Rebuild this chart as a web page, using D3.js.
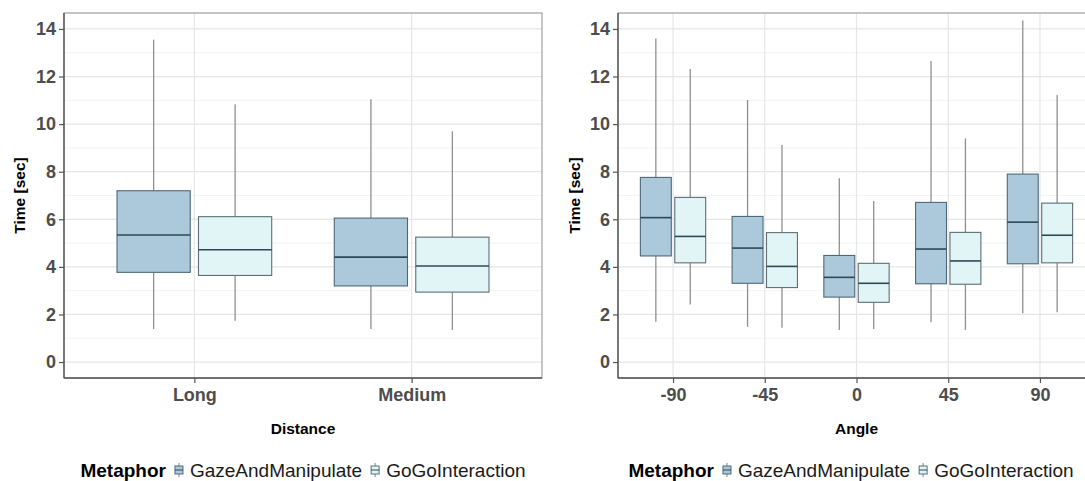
<!DOCTYPE html>
<html>
<head>
<meta charset="utf-8">
<script src="https://cdn.jsdelivr.net/npm/d3@7"></script>
<style>
  html, body { margin: 0; padding: 0; background: #fff; }
  svg { display: block; font-family: "Liberation Sans", Arial, sans-serif; }
</style>
</head>
<body>
<svg id="chart" width="1085" height="481"></svg>
<script>
// Task completion time per metaphor, summarised as [min, q1, median, q3, max]
const metaphors = ["GazeAndManipulate", "GoGoInteraction"];
const distanceCategories = ["Long", "Medium"];
const distanceGaze = [[1.39, 3.77, 5.34, 7.20, 13.55], [1.39, 3.20, 4.41, 6.05, 11.05]];
const distanceGoGo = [[1.74, 3.64, 4.72, 6.11, 10.84], [1.35, 2.94, 4.04, 5.25, 9.70]];
const angleCategories = ["-90", "-45", "0", "45", "90"];
const angleGaze = [[1.69, 4.46, 6.07, 7.76, 13.60], [1.48, 3.31, 4.79, 6.12, 11.01], [1.35, 2.73, 3.56, 4.48, 7.72], [1.67, 3.29, 4.75, 6.71, 12.65], [2.05, 4.13, 5.88, 7.90, 14.35]];
const angleGoGo = [[2.42, 4.17, 5.28, 6.92, 12.32], [1.44, 3.13, 4.02, 5.44, 9.12], [1.39, 2.51, 3.31, 4.15, 6.77], [1.35, 3.27, 4.25, 5.45, 9.40], [2.09, 4.17, 5.33, 6.68, 11.22]];
const yTicks = [0, 2, 4, 6, 8, 10, 12, 14];
const yMinorTicks = [1, 3, 5, 7, 9, 11, 13];

const fills = { GazeAndManipulate: "#abc9db", GoGoInteraction: "#e2f5f6" };
const strokes = { GazeAndManipulate: "#4f6878", GoGoInteraction: "#5e6e74" };
const medianColor = "#2c4858";
const whiskerColor = "#8f8f8f";

const svg = d3.select("#chart");

function panel(opts) {
  const { left, right, top, bottom, categories, series, xTitle, legendCenter, yTitleX } = opts;
  const g = svg.append("g");

  const x = d3.scalePoint().domain(categories).range([left, right]).padding(0.6);
  const y = d3.scaleLinear().domain([-0.67, 14.67]).range([bottom, top]);
  const step = x.step();

  // clip everything in the plotting area
  const clipId = "clip-" + xTitle;
  svg.append("defs").append("clipPath").attr("id", clipId)
    .append("rect").attr("x", left).attr("y", top).attr("width", right - left).attr("height", bottom - top);
  const area = g.append("g").attr("clip-path", `url(#${clipId})`);

  // grid
  area.selectAll(".minor").data(yMinorTicks).join("line")
    .attr("x1", left).attr("x2", right)
    .attr("y1", d => y(d)).attr("y2", d => y(d))
    .attr("stroke", "#f3f3f3").attr("stroke-width", 1);
  area.selectAll(".major").data(yTicks).join("line")
    .attr("x1", left).attr("x2", right)
    .attr("y1", d => y(d)).attr("y2", d => y(d))
    .attr("stroke", "#e6e6e6").attr("stroke-width", 1.2);
  area.selectAll(".vmajor").data(categories).join("line")
    .attr("x1", d => x(d)).attr("x2", d => x(d))
    .attr("y1", top).attr("y2", bottom)
    .attr("stroke", "#e6e6e6").attr("stroke-width", 1.2);

  // boxes
  const boxW = 0.337 * step;
  const offsets = [-0.1875 * step, 0.1875 * step];
  series.forEach((vals, si) => {
    const name = metaphors[si];
    const data = categories.map((c, i) => ({ c, s: vals[i] }));
    const bg = area.append("g");
    const cx = d => x(d.c) + offsets[si];
    bg.selectAll(".wu").data(data).join("line")
      .attr("x1", cx).attr("x2", cx)
      .attr("y1", d => y(d.s[3])).attr("y2", d => y(d.s[4]))
      .attr("stroke", whiskerColor).attr("stroke-width", 1.3);
    bg.selectAll(".wl").data(data).join("line")
      .attr("x1", cx).attr("x2", cx)
      .attr("y1", d => y(d.s[0])).attr("y2", d => y(d.s[1]))
      .attr("stroke", whiskerColor).attr("stroke-width", 1.3);
    bg.selectAll(".box").data(data).join("rect")
      .attr("x", d => cx(d) - boxW / 2).attr("width", boxW)
      .attr("y", d => y(d.s[3])).attr("height", d => y(d.s[1]) - y(d.s[3]))
      .attr("fill", fills[name]).attr("stroke", strokes[name]).attr("stroke-width", 1.1);
    bg.selectAll(".med").data(data).join("line")
      .attr("x1", d => cx(d) - boxW / 2).attr("x2", d => cx(d) + boxW / 2)
      .attr("y1", d => y(d.s[2])).attr("y2", d => y(d.s[2]))
      .attr("stroke", medianColor).attr("stroke-width", 1.6);
  });

  // panel border
  g.append("rect").attr("x", left).attr("y", top).attr("width", right - left).attr("height", bottom - top)
    .attr("fill", "none").attr("stroke", "#a0a0a0").attr("stroke-width", 1.2);
  // axis lines
  g.append("line").attr("x1", left).attr("x2", left).attr("y1", top).attr("y2", bottom)
    .attr("stroke", "#555").attr("stroke-width", 1.4);
  g.append("line").attr("x1", left).attr("x2", right).attr("y1", bottom).attr("y2", bottom)
    .attr("stroke", "#555").attr("stroke-width", 1.4);

  // y axis
  const yAxis = g.append("g").attr("transform", `translate(${left},0)`)
    .call(d3.axisLeft(y).tickValues(yTicks).tickSize(5).tickPadding(3));
  yAxis.select(".domain").remove();
  yAxis.selectAll(".tick line").attr("stroke", "#555").attr("stroke-width", 1.2);
  yAxis.selectAll(".tick text").attr("fill", "#4d4d4d").attr("font-size", 18).attr("font-weight", "bold")
    .attr("font-family", "Liberation Sans, Arial, sans-serif");

  // x axis
  const xAxis = g.append("g").attr("transform", `translate(0,${bottom})`)
    .call(d3.axisBottom(x).tickSize(5).tickPadding(5));
  xAxis.select(".domain").remove();
  xAxis.selectAll(".tick line").attr("stroke", "#555").attr("stroke-width", 1.2);
  xAxis.selectAll(".tick text").attr("fill", "#4d4d4d").attr("font-size", 18).attr("font-weight", "bold")
    .attr("font-family", "Liberation Sans, Arial, sans-serif");

  // titles
  g.append("text").attr("x", (left + Math.min(right, 1095)) / 2).attr("y", 434)
    .attr("text-anchor", "middle").attr("font-size", 15.5).attr("font-weight", "bold").attr("fill", "#000")
    .text(xTitle);
  g.append("text").attr("transform", `translate(${yTitleX},${(top + bottom) / 2}) rotate(-90)`)
    .attr("text-anchor", "middle").attr("font-size", 15.5).attr("font-weight", "bold").attr("fill", "#000")
    .text("Time [sec]");

  // legend
  const lg = g.append("g");
  const ly = 477;
  const title = lg.append("text").attr("y", ly).attr("font-size", 19).attr("font-weight", "bold")
    .attr("fill", "#000").text("Metaphor");
  let cursor = title.node().getComputedTextLength() + 9;
  metaphors.forEach((m, i) => {
    const k = lg.append("g").attr("transform", `translate(${cursor},${ly - 7})`);
    k.append("line").attr("x1", 4).attr("x2", 4).attr("y1", -7).attr("y2", 7)
      .attr("stroke", whiskerColor).attr("stroke-width", 1.1);
    k.append("rect").attr("x", 0).attr("y", -4).attr("width", 8).attr("height", 8)
      .attr("fill", fills[m]).attr("stroke", strokes[m]).attr("stroke-width", 1);
    k.append("line").attr("x1", 0).attr("x2", 8).attr("y1", 0).attr("y2", 0)
      .attr("stroke", medianColor).attr("stroke-width", 1);
    cursor += 8 + 7;
    const t = lg.append("text").attr("x", cursor).attr("y", ly).attr("font-size", 19)
      .attr("fill", "#1a1a1a").text(m);
    cursor += t.node().getComputedTextLength() + (i === 0 ? 9 : 0);
  });
  lg.attr("transform", `translate(${legendCenter - cursor / 2},0)`);
}

panel({
  left: 64, right: 542, top: 13, bottom: 378,
  categories: distanceCategories, series: [distanceGaze, distanceGoGo],
  xTitle: "Distance", legendCenter: 303, yTitleX: 25
});
panel({
  left: 618, right: 1095, top: 13, bottom: 378,
  categories: angleCategories, series: [angleGaze, angleGoGo],
  xTitle: "Angle", legendCenter: 851, yTitleX: 580
});
</script>
</body>
</html>
